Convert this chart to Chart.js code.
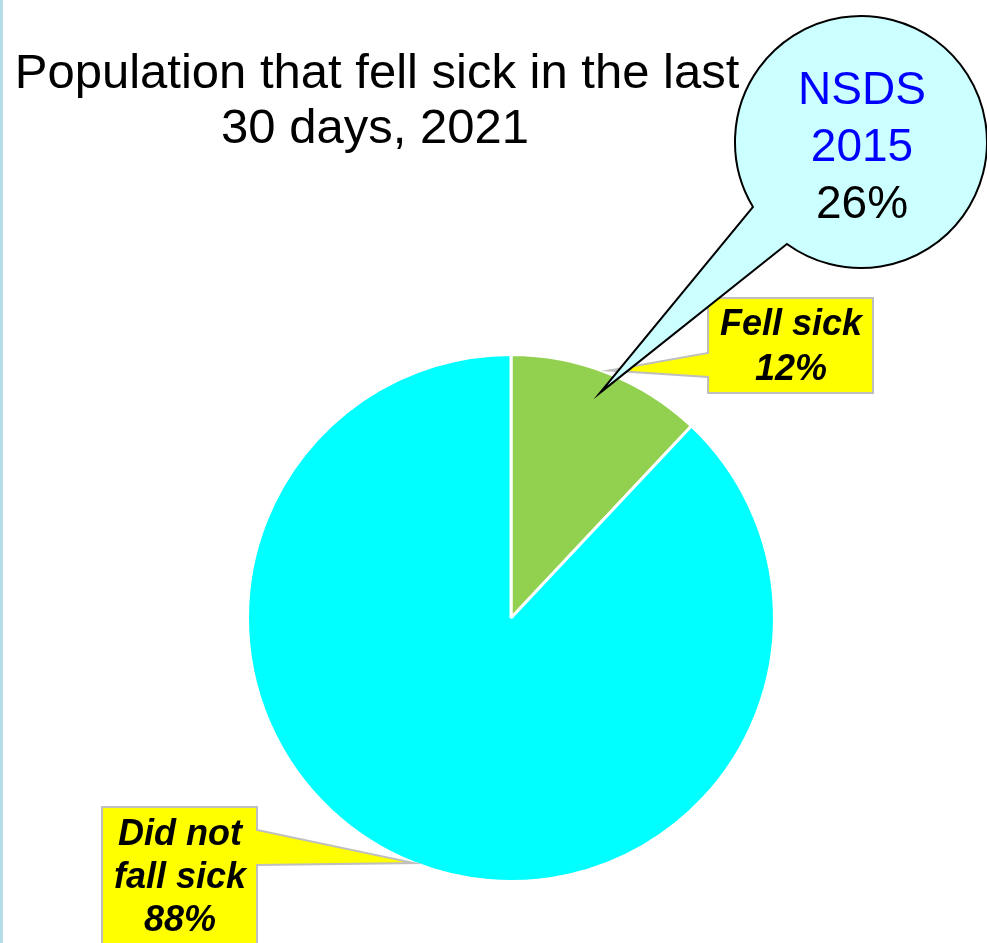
<!DOCTYPE html>
<html>
<head>
<meta charset="utf-8">
<script src="https://cdn.jsdelivr.net/npm/chart.js@4"></script>
<style>
  body { margin: 0; background: #fff; }
  canvas { display: block; }
</style>
</head>
<body>
<canvas id="sickChart" width="987" height="943"></canvas>
<script>
const categories = ['Fell sick', 'Did not fall sick'];
const shares = [12, 88];
const sliceColors = ['#92d050', '#00ffff'];
const titleLines = ['Population that fell sick in the last', '30 days, 2021'];
const bubbleLines = ['NSDS', '2015', '26%'];
const bubbleColors = ['#0000ff', '#0000ff', '#000000'];
const labelLines = [['Fell sick', '12%'], ['Did not', 'fall sick', '88%']];

const FONT = '"Liberation Sans", Arial, sans-serif';

// point on the rim of slice i at its middle angle
function rimPoint(arc, frac) {
  const mid = (arc.startAngle + arc.endAngle) / 2;
  const r = arc.outerRadius * frac;
  return { x: arc.x + Math.cos(mid) * r, y: arc.y + Math.sin(mid) * r };
}

const callouts = {
  id: 'callouts',
  afterDraw(chart) {
    const ctx = chart.ctx;
    const arcs = chart.getDatasetMeta(0).data;
    ctx.save();

    // thin blue strip on the left edge
    ctx.fillStyle = '#b4dde8';
    ctx.fillRect(0, 0, 3, chart.height);

    // title
    ctx.fillStyle = '#000';
    ctx.textAlign = 'center';
    ctx.textBaseline = 'alphabetic';
    ctx.font = '49px ' + FONT;
    ctx.fillText(titleLines[0], 377, 88);
    ctx.fillText(titleLines[1], 375, 143);

    // yellow label boxes
    ctx.lineWidth = 2;
    ctx.strokeStyle = '#bfbfbf';
    ctx.fillStyle = '#ffff00';

    let tip = rimPoint(arcs[0], 1.01);
    ctx.beginPath();
    ctx.moveTo(708, 298);
    ctx.lineTo(873, 298);
    ctx.lineTo(873, 393);
    ctx.lineTo(708, 393);
    ctx.lineTo(708, 377);
    ctx.lineTo(tip.x, tip.y);
    ctx.lineTo(708, 353);
    ctx.closePath();
    ctx.fill();
    ctx.stroke();

    tip = rimPoint(arcs[1], 1.0);
    ctx.beginPath();
    ctx.moveTo(102, 807);
    ctx.lineTo(257, 807);
    ctx.lineTo(257, 830);
    ctx.lineTo(tip.x, tip.y);
    ctx.lineTo(257, 865);
    ctx.lineTo(257, 960);
    ctx.lineTo(102, 960);
    ctx.closePath();
    ctx.fill();
    ctx.stroke();

    ctx.fillStyle = '#000';
    ctx.font = 'italic bold 36px ' + FONT;
    labelLines[0].forEach((t, i) => ctx.fillText(t, 791, 335 + i * 45));
    labelLines[1].forEach((t, i) => ctx.fillText(t, 180, 845 + i * 43));

    // speech bubble
    const cx = 861, cy = 142, r = 126;
    const a1 = 126 * Math.PI / 180, a2 = 149 * Math.PI / 180;
    tip = rimPoint(arcs[0], 0.92);
    ctx.beginPath();
    ctx.moveTo(tip.x, tip.y);
    ctx.lineTo(cx + Math.cos(a1) * r, cy + Math.sin(a1) * r);
    ctx.arc(cx, cy, r, a1, a2, true);
    ctx.closePath();
    ctx.fillStyle = '#ccffff';
    ctx.fill();
    ctx.strokeStyle = '#000';
    ctx.lineWidth = 2;
    ctx.stroke();

    ctx.font = '46px ' + FONT;
    bubbleLines.forEach((t, i) => {
      ctx.fillStyle = bubbleColors[i];
      ctx.fillText(t, 862, 104 + i * 57);
    });

    ctx.restore();
  }
};

new Chart(document.getElementById('sickChart').getContext('2d'), {
  type: 'pie',
  data: {
    labels: categories,
    datasets: [{
      data: shares,
      backgroundColor: sliceColors,
      borderColor: '#ffffff',
      borderWidth: 3
    }]
  },
  options: {
    responsive: false,
    animation: false,
    layout: { padding: { left: 246, right: 211, top: 353, bottom: 60 } },
    plugins: {
      legend: { display: false },
      tooltip: { enabled: false }
    }
  },
  plugins: [callouts]
});
</script>
</body>
</html>
